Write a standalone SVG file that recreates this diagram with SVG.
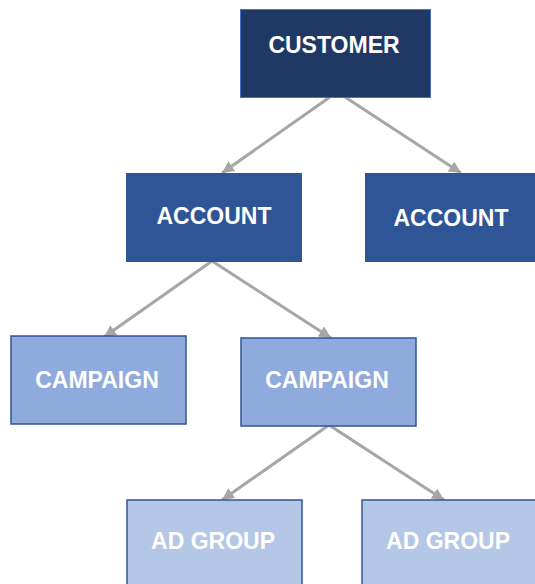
<svg xmlns="http://www.w3.org/2000/svg" width="535" height="584" viewBox="0 0 535 584">
<style>
.lbl{font-family:"Liberation Sans",Arial,sans-serif;font-weight:bold;font-size:23px;fill:#ffffff;text-anchor:middle}
.cust{fill:#203864;stroke:#4472C4;stroke-width:1}
.acct{fill:#2F5597;stroke:#2F5597;stroke-width:1}
.camp{fill:#8FAADC;stroke:#2F5597;stroke-width:1.5}
.adg{fill:#B4C7E7;stroke:#2F5597;stroke-width:1.5}
.conn{stroke:#A6A6A6;stroke-width:3;fill:none;marker-end:url(#arr)}
</style>
<defs>
<marker id="arr" markerUnits="userSpaceOnUse" markerWidth="14" markerHeight="12" refX="12" refY="6" orient="auto">
<path d="M0,0 L12,6 L0,12 Z" fill="#A6A6A6"/>
</marker>
</defs>
<rect width="535" height="584" fill="#ffffff"/>
<g id="connectors">
<line class="conn" x1="330" y1="97" x2="222" y2="173"/>
<line class="conn" x1="345" y1="97" x2="461" y2="173"/>
<line class="conn" x1="212" y1="261" x2="104" y2="337"/>
<line class="conn" x1="212" y1="261" x2="331" y2="338"/>
<line class="conn" x1="329" y1="425" x2="222" y2="500"/>
<line class="conn" x1="329" y1="425" x2="444" y2="500"/>
</g>
<g id="customer">
<rect class="cust" x="240.5" y="9.5" width="190" height="88"/>
<text class="lbl" x="334" y="53">CUSTOMER</text>
</g>
<g id="account1">
<rect class="acct" x="126.5" y="173.5" width="175" height="88"/>
<text class="lbl" x="214" y="224">ACCOUNT</text>
</g>
<g id="account2">
<rect class="acct" x="365.5" y="173.5" width="175" height="88"/>
<text class="lbl" x="451" y="226">ACCOUNT</text>
</g>
<g id="campaign1">
<rect class="camp" x="11" y="336" width="175" height="88"/>
<text class="lbl" x="97" y="388">CAMPAIGN</text>
</g>
<g id="campaign2">
<rect class="camp" x="241" y="338" width="175" height="88"/>
<text class="lbl" x="327" y="388">CAMPAIGN</text>
</g>
<g id="adgroup1">
<rect class="adg" x="127" y="500" width="175" height="90"/>
<text class="lbl" x="213" y="549">AD GROUP</text>
</g>
<g id="adgroup2">
<rect class="adg" x="362" y="500" width="180" height="90"/>
<text class="lbl" x="448" y="549">AD GROUP</text>
</g>
</svg>
